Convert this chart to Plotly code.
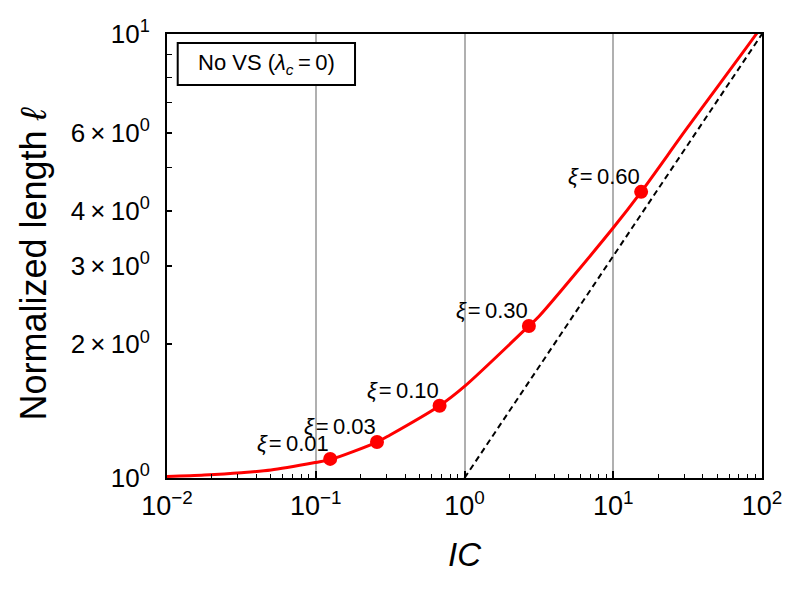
import math

import plotly.graph_objects as go

# curve (log-log)
curve_ic = [0.01, 0.0178, 0.0316, 0.05, 0.1, 0.125, 0.258, 0.316, 0.68, 1.0,
            2.71, 3.16, 10.0, 15.4, 31.6, 91.6, 100.0]
curve_len = [1.008, 1.016, 1.028, 1.042, 1.084, 1.10, 1.205, 1.25, 1.455, 1.608,
             2.20, 2.31, 3.66, 4.41, 6.16, 10.0, 10.45]

# asymptote
asym_ic = [1.0, 100.0]
asym_len = [1.0, 10.0]

# marked points
xi_values = [0.01, 0.03, 0.10, 0.30, 0.60]
xi_ic = [0.125, 0.258, 0.68, 2.71, 15.4]
xi_len = [1.104, 1.205, 1.455, 2.20, 4.41]

x_ticks = [0.01, 0.1, 1, 10, 100]
x_ticktext = ["10<sup>\u22122</sup>", "10<sup>\u22121</sup>", "10<sup>0</sup>",
              "10<sup>1</sup>", "10<sup>2</sup>"]
x_minor = [m * 10 ** e for e in range(-2, 2) for m in range(2, 10)]

y_ticks = [1, 2, 3, 4, 6, 10]
y_ticktext = ["10<sup>0</sup>", "2\u2009\u00d7\u200910<sup>0</sup>", "3\u2009\u00d7\u200910<sup>0</sup>",
              "4\u2009\u00d7\u200910<sup>0</sup>", "6\u2009\u00d7\u200910<sup>0</sup>", "10<sup>1</sup>"]
y_minor = [5, 7, 8, 9]

FONT = "Liberation Sans, Arial, sans-serif"
RED = "#ff0000"

fig = go.Figure()

fig.add_trace(go.Scatter(
    x=asym_ic, y=asym_len, mode="lines",
    line=dict(color="black", width=2, dash="6px,4px"),
))

fig.add_trace(go.Scatter(
    x=curve_ic, y=curve_len, mode="lines",
    line=dict(color=RED, width=3, shape="spline", smoothing=0.8),
))

fig.add_trace(go.Scatter(
    x=xi_ic, y=xi_len, mode="markers",
    marker=dict(color=RED, size=14),
))

# annotations on log axes take log10 positions
for xi, x, y in zip(xi_values, xi_ic, xi_len):
    fig.add_annotation(
        x=math.log10(x), y=math.log10(y), xref="x", yref="y",
        text=f"<i>\u03be</i>\u200a=\u2009{xi:.2f}", showarrow=False,
        xanchor="right", yanchor="bottom", xshift=1, yshift=1,
        font=dict(family=FONT, size=22, color="black"),
    )

# legend-like box
fig.add_shape(type="rect", xref="paper", yref="paper",
              x0=0.018, x1=0.316, y0=0.885, y1=0.98,
              line=dict(color="black", width=2), fillcolor="white", layer="above")
fig.add_annotation(
    x=0.167, y=0.9325, xref="paper", yref="paper", showarrow=False,
    xanchor="center", yanchor="middle",
    text="No VS (<i>\u03bb<sub>c</sub></i>\u2009=\u20090)",
    font=dict(family=FONT, size=22, color="black"),
)

# y title as annotation so it can sit where the reference has it
fig.add_annotation(
    x=-0.2235, y=0.483, xref="paper", yref="paper", showarrow=False,
    xanchor="center", yanchor="middle", textangle=-90,
    text="Normalized length <i>\u2113</i>",
    font=dict(family=FONT, size=36, color="black"),
)

fig.update_xaxes(
    type="log", range=[-2, 2],
    tickvals=x_ticks, ticktext=x_ticktext,
    ticks="inside", ticklen=7, tickwidth=1.5, tickcolor="black",
    minor=dict(tickvals=x_minor, ticks="inside", ticklen=4, tickwidth=1.2,
               tickcolor="black", showgrid=False),
    showgrid=True, gridcolor="#b0b0b0", gridwidth=1.5,
    showline=True, linecolor="black", linewidth=2, mirror=True,
    zeroline=False, automargin=False, ticklabelstandoff=3,
    tickfont=dict(family=FONT, size=27, color="black"),
    title=dict(text="<i>IC</i>", font=dict(family=FONT, size=33, color="black"), standoff=22),
)
fig.update_yaxes(
    type="log", range=[0, 1],
    tickvals=y_ticks, ticktext=y_ticktext,
    ticks="inside", ticklen=5, tickwidth=1.5, tickcolor="black",
    minor=dict(tickvals=y_minor, ticks="inside", ticklen=5, tickwidth=1.2,
               tickcolor="black", showgrid=False),
    showgrid=False,
    showline=True, linecolor="black", linewidth=2, mirror=True,
    zeroline=False, automargin=False, ticklabelstandoff=10,
    tickfont=dict(family=FONT, size=26, color="black"),
)

# page body adds an 8px offset, margins compensate for it
fig.update_layout(
    width=803, height=592,
    margin=dict(l=159, r=49, t=26, b=122),
    plot_bgcolor="white", paper_bgcolor="white",
    showlegend=False,
)

fig.write_html("out.html")
